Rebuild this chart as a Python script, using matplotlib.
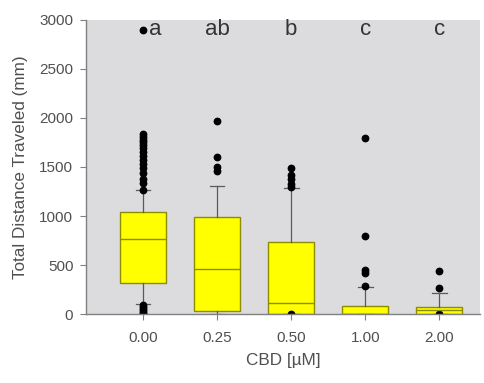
import matplotlib
matplotlib.use("Agg")
import matplotlib.pyplot as plt

plt.rcParams["font.family"] = ["Liberation Sans", "DejaVu Sans"]

# Summary statistics per CBD concentration (distance in mm)
doses = ["0.00", "0.25", "0.50", "1.00", "2.00"]
whisker_low = [100, 0, 0, 0, 0]
q1 = [316, 30, 0, 3, 3]
median = [765, 460, 110, 5, 40]
q3 = [1040, 990, 735, 82, 70]
whisker_high = [1265, 1305, 1285, 280, 215]
outliers = [
    [2900, 1840, 1810, 1780, 1750, 1720, 1690, 1650, 1610, 1570, 1530,
     1490, 1440, 1380, 1340, 1270, 0, 15, 30, 50, 70, 90],
    [1970, 1600, 1500, 1460],
    [1490, 1420, 1380, 1330, 1300, 0],
    [1800, 800, 450, 420, 285],
    [440, 270, 0],
]
letters = ["a", "ab", "b", "c", "c"]
letter_offsets = [0.17, 0, 0, 0, 0]

stats = []
for i in range(len(doses)):
    stats.append(dict(label=doses[i], whislo=whisker_low[i], q1=q1[i],
                      med=median[i], q3=q3[i], whishi=whisker_high[i],
                      fliers=outliers[i]))

fig = plt.figure(figsize=(4.85, 3.83), dpi=100)
ax = fig.add_axes([0.177, 0.180, 0.813, 0.768])
ax.set_facecolor("#dcdcde")

edge = "#8c8c00"
ax.bxp(stats, positions=range(1, len(doses) + 1), widths=0.62,
       patch_artist=True, capwidths=0.2,
       boxprops=dict(facecolor="#ffff00", edgecolor=edge, linewidth=1.0),
       medianprops=dict(color=edge, linewidth=1.0),
       whiskerprops=dict(color="#5a5a5a", linewidth=0.9),
       capprops=dict(color="#5a5a5a", linewidth=0.9),
       flierprops=dict(marker="o", markersize=4.6, markerfacecolor="black",
                       markeredgecolor="black"))

for i, (txt, dx) in enumerate(zip(letters, letter_offsets)):
    ax.text(i + 1 + dx, 2900, txt, ha="center", va="center",
            fontsize=16, color="#333333")

ax.set_xlim(0.23, 5.55)
ax.set_ylim(0, 3000)
ax.set_yticks(range(0, 3001, 500))
for side in ("top", "right"):
    ax.spines[side].set_visible(False)
for side in ("left", "bottom"):
    ax.spines[side].set_color("#808080")
    ax.spines[side].set_linewidth(1.0)
ax.tick_params(axis="both", colors="#808080", labelcolor="#505050",
               labelsize=11, length=4, width=0.8)
ax.tick_params(axis="x", pad=8)
ax.tick_params(axis="y", pad=5)
ax.set_xlabel("CBD [µM]", fontsize=12.3, color="#505050", labelpad=6)
ax.set_ylabel("Total Distance Traveled (mm)", fontsize=12.3, color="#505050",
              labelpad=8)

fig.savefig("out.png", dpi=100, facecolor="white")
